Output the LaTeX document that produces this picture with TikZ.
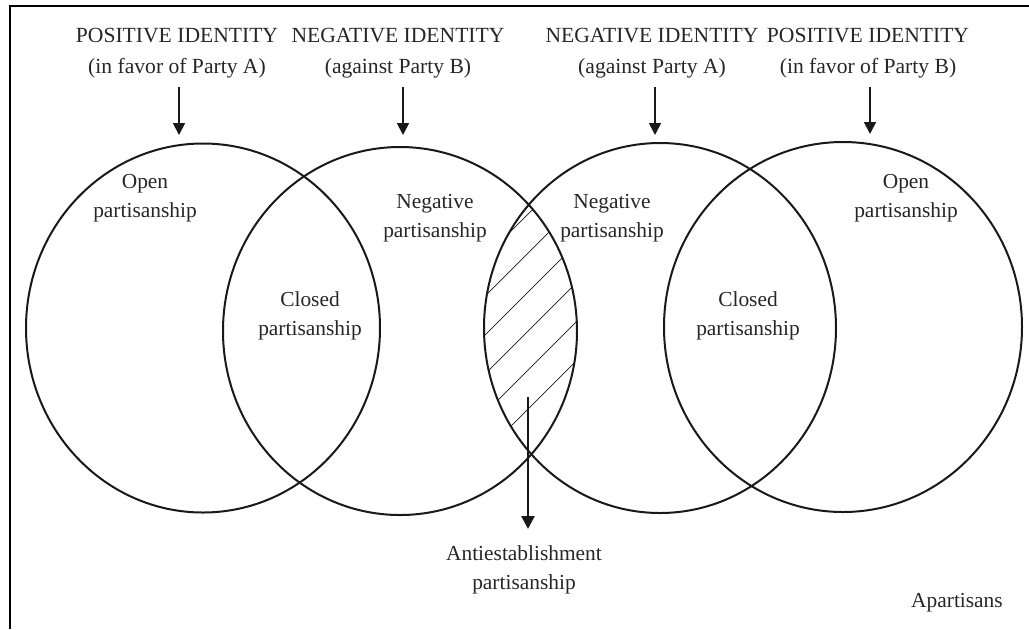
\documentclass[tikz,border=0pt]{standalone}
\usepackage{fontspec}
\setmainfont{Liberation Serif}
\usetikzlibrary{arrows.meta}
\begin{document}
\begin{tikzpicture}[x=0.5pt,y=-0.5pt,
  lbl/.style={inner sep=0pt,align=center,text=black!85,font=\fontsize{10.7}{14.5}\selectfont},
  head/.style={inner sep=0pt,align=center,text=black!85,font=\fontsize{10.8}{15.5}\selectfont},
  venn/.style={line width=1pt,draw=black!90},
  downarrow/.style={line width=0.9pt,draw=black!90,-{Triangle[length=6pt,width=6pt]}},
  bigarrow/.style={line width=1.2pt,draw=black!90,-{Triangle[length=6.5pt,width=6.5pt]}},
  hatch/.style={line width=0.35pt,draw=black!90}]
\useasboundingbox (0,0) rectangle (1029,629);
% frame (top and left edges visible)
\draw[line width=1.1pt] (10,629) -- (10,6) -- (1029,6);
% circles
\draw[venn] (203,328) ellipse [x radius=88.5pt, y radius=92.25pt];
\draw[venn] (400,331) ellipse [x radius=88.5pt, y radius=92pt];
\draw[venn] (660,328) ellipse [x radius=88pt, y radius=92.5pt];
\draw[venn] (843,327) ellipse [x radius=89.5pt, y radius=92.5pt];
% hatched lens
\begin{scope}
  \clip (400,331) ellipse [x radius=88.5pt, y radius=92pt];
  \clip (660,328) ellipse [x radius=88pt, y radius=92.5pt];
  \foreach \c in {742,781,820,859,898,937}
    \draw[hatch] (\c-400,400) -- (\c-600,600) (\c-400,400) -- (\c-100,100);
\end{scope}
% headings
\node[head] (h1) at (177,53) {POSITIVE IDENTITY\\(in favor of Party A)};
\node[head] (h2) at (398,53) {NEGATIVE IDENTITY\\(against Party B)};
\node[head] (h3) at (652,53) {NEGATIVE IDENTITY\\(against Party A)};
\node[head] (h4) at (868,53) {POSITIVE IDENTITY\\(in favor of Party B)};
\coordinate (a1s) at (179,87);  \coordinate (a1e) at (179,135);
\coordinate (a2s) at (403,87);  \coordinate (a2e) at (403,135);
\coordinate (a3s) at (655,87);  \coordinate (a3e) at (655,135);
\coordinate (a4s) at (870,87);  \coordinate (a4e) at (870,134);
\draw[downarrow] (a1s) -- (a1e);
\draw[downarrow] (a2s) -- (a2e);
\draw[downarrow] (a3s) -- (a3e);
\draw[downarrow] (a4s) -- (a4e);
% region labels
\node[lbl] (open1) at (145,198) {Open\\partisanship};
\node[lbl] (closed1) at (310,316) {Closed\\partisanship};
\node[lbl] (neg1) at (435,218) {Negative\\partisanship};
\node[lbl] (neg2) at (612,218) {Negative\\partisanship};
\node[lbl] (closed2) at (748,316) {Closed\\partisanship};
\node[lbl] (open2) at (906,198) {Open\\partisanship};
% antiestablishment
\node[lbl] (anti) at (524,570) {Antiestablishment\\partisanship};
\coordinate (ans) at (528,397);
\coordinate (ane) at (528,529);
\draw[bigarrow] (ans) -- (ane);
\node[lbl] (apart) at (957,603) {Apartisans};
\end{tikzpicture}
\end{document}
